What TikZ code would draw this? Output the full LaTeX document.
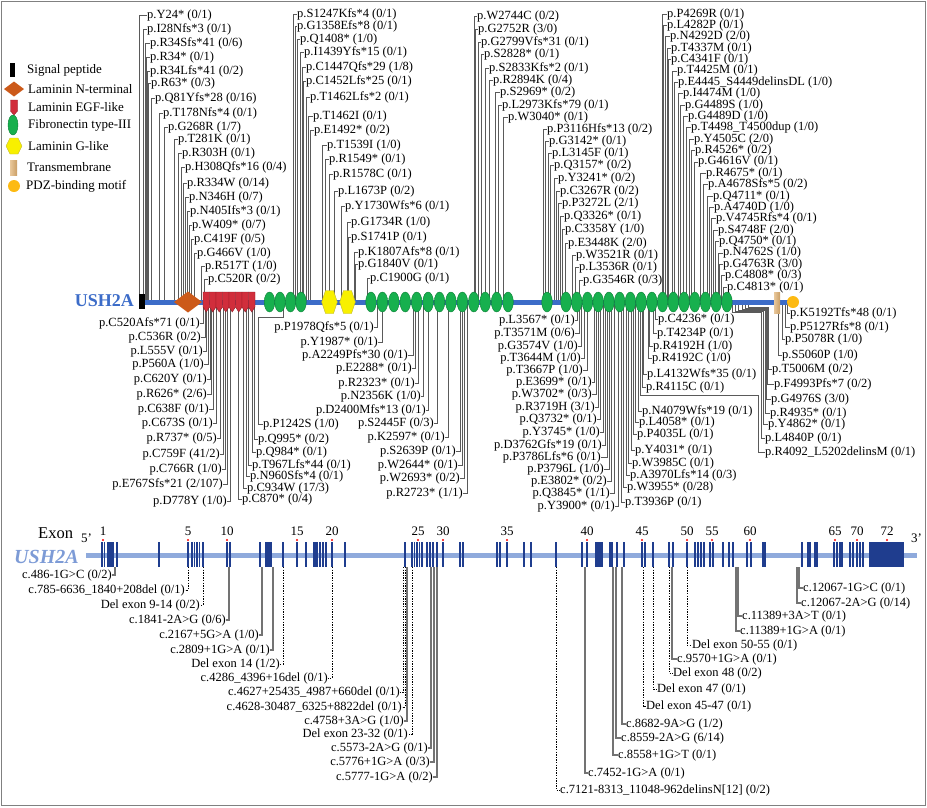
\documentclass[tikz,border=0pt]{standalone}
\usepackage{fontspec}
\setmainfont{Liberation Serif}
\definecolor{leadc}{HTML}{5A5A5A}
\definecolor{barblue}{HTML}{3C6CC8}
\definecolor{dorange}{HTML}{CC5A1A}
\definecolor{egfred}{HTML}{D12E3C}
\definecolor{egfdark}{HTML}{8E1A24}
\definecolor{fngreen}{HTML}{17B04E}
\definecolor{fndark}{HTML}{0B7F35}
\definecolor{lgyellow}{HTML}{F8F000}
\definecolor{tmtan}{HTML}{E0B070}
\definecolor{pdzorange}{HTML}{FDBA12}
\definecolor{exdark}{HTML}{1F3D8E}
\definecolor{exlight}{HTML}{8FAADC}
\definecolor{exlabel}{HTML}{7D9BD6}
\definecolor{framec}{HTML}{808080}
\newcounter{lc}
% label to the right of its line: linex, y, textx, text
\newcommand\ulab[4]{\stepcounter{lc}\node[lab,anchor=west] (n\thelc) at (#3,#2) {#4};
  \draw[lead] (#1,302) |- (n\thelc.west);}
% label to the left of its line: linex, y, textend, text
\newcommand\dlab[4]{\stepcounter{lc}\node[lab,anchor=east] (n\thelc) at (#3,#2) {#4};
  \draw[lead] (#1,302) |- (n\thelc.east);}
% elbow label: posx, jogy, linex, y, textx, text
\newcommand\elab[6]{\stepcounter{lc}\node[lab,anchor=west] (n\thelc) at (#5,#4) {#6};
  \draw[lead] (#1,302) |- (#3,#2) |- (n\thelc.west);}
% exon labels: style, linex, y, textpos, text
\newcommand\exl[5]{\stepcounter{lc}\node[lab,anchor=east] (n\thelc) at (#4,#3) {#5};
  \draw[#1] (#2,567) |- (n\thelc.east);}
\newcommand\exr[5]{\stepcounter{lc}\node[lab,anchor=west] (n\thelc) at (#4,#3) {#5};
  \draw[#1] (#2,567) |- (n\thelc.west);}
\begin{document}
\begin{tikzpicture}[x=1pt,y=-1pt,
  lab/.style={inner sep=0pt,font=\fontsize{12.5}{14}\selectfont},
  legt/.style={inner sep=0pt,anchor=west,font=\fontsize{13}{15}\selectfont},
  lead/.style={draw=leadc,line width=0.8pt},
  esol/.style={draw=leadc!85,line width=1.5pt},
  edot/.style={draw=black,line width=0.7pt,dash pattern=on 1.3pt off 1.3pt},
  exn/.style={inner sep=0pt,font=\fontsize{13}{15}\selectfont},
  fn/.style={fill=fngreen,draw=fndark,line width=0.4pt}]
\useasboundingbox (0,0) rectangle (927,807);
\draw[framec,line width=1.2pt] (1.5,1.5) rectangle (925.5,805.5);

% ---------------- legend ----------------
\fill[black] (10,63) rectangle (15,77);
\node[legt] (lg1) at (27,70) {Signal peptide};
\fill[dorange] (4,89) -- (14,81.5) -- (24,89) -- (14,96.5) -- cycle;
\node[legt] (lg2) at (28,89) {Laminin N-terminal};
\filldraw[fill=egfred,draw=egfdark,line width=0.4pt] (10.5,100) -- (17.5,100) -- (17.5,111) -- (14,115) -- (10.5,111) -- cycle;
\node[legt] (lg3) at (28,107) {Laminin EGF-like};
\filldraw[fn] (13,125) ellipse (5pt and 10pt);
\node[legt] (lg4) at (28,125) {Fibronectin type-III};
\filldraw[fill=lgyellow,draw=yellow!70!black,line width=0.4pt] (6,146) -- (10,138) -- (18,138) -- (22,146) -- (18,154) -- (10,154) -- cycle;
\node[legt] (lg5) at (28,146) {Laminin G-like};
\shade[left color=tmtan!70!white,right color=tmtan!90!black] (10,160) rectangle (17,175);
\node[legt] (lg6) at (27,167) {Transmembrane};
\fill[pdzorange] (14,186) circle (6pt);
\node[legt] (lg7) at (26,186) {PDZ-binding motif};

% ---------------- upper protein labels ----------------
\ulab{139}{15}{147}{p.Y24* (0/1)}
\ulab{143}{29}{147}{p.I28Nfs*3 (0/1)}
\ulab{145}{43}{150}{p.R34Sfs*41 (0/6)}
\ulab{146}{57}{150}{p.R34* (0/1)}
\ulab{147}{71}{150}{p.R34Lfs*41 (0/2)}
\ulab{148}{83}{151}{p.R63* (0/3)}
\ulab{151}{98}{155}{p.Q81Yfs*28 (0/16)}
\ulab{159}{113}{163}{p.T178Nfs*4 (0/1)}
\ulab{164}{127}{168}{p.G268R (1/7)}
\ulab{174}{139}{178}{p.T281K (0/1)}
\ulab{178}{153}{182}{p.R303H (0/1)}
\ulab{181}{167}{185}{p.H308Qfs*16 (0/4)}
\ulab{183}{183}{187}{p.R334W (0/14)}
\ulab{185}{197}{189}{p.N346H (0/7)}
\ulab{187}{211}{190}{p.N405Ifs*3 (0/1)}
\ulab{189}{225}{192}{p.W409* (0/7)}
\ulab{191}{239}{194}{p.C419F (0/5)}
\ulab{194}{253}{197}{p.G466V (1/0)}
\ulab{201}{266}{205}{p.R517T (1/0)}
\ulab{204}{279}{208}{p.C520R (0/2)}

\ulab{293}{14}{297}{p.S1247Kfs*4 (0/1)}
\ulab{295}{26}{297}{p.G1358Efs*8 (0/1)}
\ulab{297}{39}{300}{p.Q1408* (1/0)}
\ulab{300}{52}{304}{p.I1439Yfs*15 (0/1)}
\ulab{302}{67}{306}{p.C1447Qfs*29 (1/8)}
\ulab{303}{81}{306}{p.C1452Lfs*25 (0/1)}
\ulab{306}{97}{310}{p.T1462Lfs*2 (0/1)}
\ulab{308}{116}{313}{p.T1462I (0/1)}
\ulab{310}{130}{314}{p.E1492* (0/2)}
\ulab{322}{145}{327}{p.T1539I (1/0)}
\ulab{325}{159}{329}{p.R1549* (0/1)}
\ulab{329}{174}{333}{p.R1578C (0/1)}
\ulab{334}{191}{338}{p.L1673P (0/2)}
\ulab{341}{206}{345}{p.Y1730Wfs*6 (0/1)}
\ulab{347}{222}{351}{p.G1734R (1/0)}
\ulab{348}{237}{351}{p.S1741P (0/1)}
\ulab{354}{252}{358}{p.K1807Afs*8 (0/1)}
\ulab{355}{264}{358}{p.G1840V (0/1)}
\ulab{367}{278}{370}{p.C1900G (0/1)}

\ulab{474}{16}{477}{p.W2744C (0/2)}
\ulab{475}{29}{478}{p.G2752R (3/0)}
\ulab{478}{42}{481}{p.G2799Vfs*31 (0/1)}
\ulab{481}{54}{484}{p.S2828* (0/1)}
\ulab{485}{68}{489}{p.S2833Kfs*2 (0/1)}
\ulab{489}{80}{493}{p.R2894K (0/4)}
\ulab{495}{92}{500}{p.S2969* (0/2)}
\ulab{498}{105}{502}{p.L2973Kfs*79 (0/1)}
\ulab{503}{117}{508}{p.W3040* (0/1)}

\ulab{543}{129}{547}{p.P3116Hfs*13 (0/2)}
\ulab{545}{141}{549}{p.G3142* (0/1)}
\ulab{548}{153}{552}{p.L3145F (0/1)}
\ulab{550}{165}{554}{p.Q3157* (0/2)}
\ulab{554}{178}{558}{p.Y3241* (0/2)}
\ulab{556}{191}{560}{p.C3267R (0/2)}
\ulab{558}{203}{562}{p.P3272L (2/1)}
\ulab{560}{216}{564}{p.Q3326* (0/1)}
\ulab{562}{229}{565}{p.C3358Y (1/0)}
\ulab{565}{243}{568}{p.E3448K (2/0)}
\ulab{572}{255}{576}{p.W3521R (0/1)}
\ulab{575}{267}{579}{p.L3536R (0/1)}
\ulab{579}{280}{583}{p.G3546R (0/3)}

\ulab{662}{14}{667}{p.P4269R (0/1)}
\ulab{663}{25.4}{667}{p.L4282P (0/1)}
\ulab{665}{36.8}{670}{p.N4292D (2/0)}
\ulab{667}{48.1}{671}{p.T4337M (0/1)}
\ulab{668}{59.5}{671}{p.C4341F (0/1)}
\ulab{672}{70.9}{677}{p.T4425M (0/1)}
\ulab{674}{82.3}{678}{p.E4445\_S4449delinsDL (1/0)}
\ulab{678}{93.6}{683}{p.I4474M (1/0)}
\ulab{680}{105}{685}{p.G4489S (1/0)}
\ulab{683}{116.4}{688}{p.G4489D (1/0)}
\ulab{686}{127.8}{691}{p.T4498\_T4500dup (1/0)}
\ulab{689}{139.1}{694}{p.Y4505C (2/0)}
\ulab{691}{150.5}{695}{p.R4526* (0/2)}
\ulab{694}{161.9}{698}{p.G4616V (0/1)}
\ulab{700}{173.3}{706}{p.R4675* (0/1)}
\ulab{703}{184.6}{708}{p.A4678Sfs*5 (0/2)}
\ulab{707}{196}{713}{p.Q4711* (0/1)}
\ulab{709}{207.4}{714}{p.A4740D (1/0)}
\ulab{711}{218.8}{716}{p.V4745Rfs*4 (0/1)}
\ulab{713}{230.1}{718}{p.S4748F (2/0)}
\ulab{715}{241.5}{719}{p.Q4750* (0/1)}
\ulab{718}{252.9}{723}{p.N4762S (1/0)}
\ulab{719}{264.3}{723}{p.G4763R (3/0)}
\ulab{721}{275.6}{725}{p.C4808* (0/3)}
\ulab{723}{287}{727}{p.C4813* (0/1)}

% ---------------- lower protein labels ----------------
\dlab{203}{323}{200}{p.C520Afs*71 (0/1)}
\dlab{205}{337}{201}{p.C536R (0/2)}
\dlab{206}{351}{203}{p.L555V (0/1)}
\dlab{208}{364}{204}{p.P560A (1/0)}
\dlab{210}{379}{207}{p.C620Y (0/1)}
\dlab{211}{394}{207}{p.R626* (2/6)}
\dlab{213}{409}{209}{p.C638F (0/1)}
\dlab{216}{423}{213}{p.C673S (0/1)}
\dlab{220}{438}{217}{p.R737* (0/5)}
\dlab{223}{454}{220}{p.C759F (41/2)}
\dlab{225}{469}{222}{p.C766R (1/0)}
\dlab{227}{484}{223}{p.E767Sfs*21 (2/107)}
\dlab{230}{501}{227}{p.D778Y (1/0)}

\ulab{238}{499}{242}{p.C870* (0/4)}
\ulab{243}{488}{247}{p.C934W (17/3)}
\ulab{246}{476}{250}{p.N960Sfs*4 (0/1)}
\ulab{248}{465}{252}{p.T967Lfs*44 (0/1)}
\ulab{252}{452}{256}{p.Q984* (0/1)}
\ulab{254}{439}{258}{p.Q995* (0/2)}
\elab{283}{317}{258}{424}{263}{p.P1242S (1/0)}

\dlab{377}{327}{374}{p.P1978Qfs*5 (0/1)}
\dlab{382}{342}{378}{p.Y1987* (0/1)}
\dlab{413}{355}{408}{p.A2249Pfs*30 (0/1)}
\dlab{415}{368}{412}{p.E2288* (0/1)}
\dlab{418}{383}{415}{p.R2323* (0/1)}
\dlab{423}{396}{421}{p.N2356K (1/0)}
\dlab{428}{410}{426}{p.D2400Mfs*13 (0/1)}
\dlab{437}{423}{434}{p.S2445F (0/3)}
\dlab{448}{437}{445}{p.K2597* (0/1)}
\dlab{460}{451}{456}{p.S2639P (0/1)}
\dlab{462}{465}{458}{p.W2644* (0/1)}
\dlab{464}{478}{460}{p.W2693* (0/2)}
\dlab{467}{493}{463}{p.R2723* (1/1)}

\dlab{577}{320}{575}{p.L3567* (0/1)}
\dlab{579}{333}{575}{p.T3571M (0/6)}
\dlab{581}{346}{578}{p.G3574V (1/0)}
\dlab{584}{358}{581}{p.T3644M (1/0)}
\dlab{587}{370}{583}{p.T3667P (1/0)}
\dlab{594}{382}{592}{p.E3699* (0/1)}
\dlab{596}{394}{592}{p.W3702* (0/3)}
\dlab{598}{407}{595}{p.R3719H (3/1)}
\dlab{600}{419}{597}{p.Q3732* (0/1)}
\dlab{603}{432}{600}{p.Y3745* (1/0)}
\dlab{605}{445}{602}{p.D3762Gfs*19 (0/1)}
\dlab{607}{457}{601}{p.P3786Lfs*6 (0/1)}
\dlab{609}{469}{604}{p.P3796L (1/0)}
\dlab{611}{481}{607}{p.E3802* (0/2)}
\dlab{614}{493}{610}{p.Q3845* (1/1)}
\dlab{618}{506}{615}{p.Y3900* (0/1)}

\ulab{621}{502}{625}{p.T3936P (0/1)}
\ulab{623}{487}{627}{p.W3955* (0/28)}
\ulab{626}{475}{630}{p.A3970Lfs*14 (0/3)}
\ulab{628}{463}{632}{p.W3985C (0/1)}
\ulab{631}{450}{635}{p.Y4031* (0/1)}
\ulab{633}{434}{637}{p.P4035L (0/1)}
\ulab{635}{422}{639}{p.L4058* (0/1)}
\ulab{638}{411}{642}{p.N4079Wfs*19 (0/1)}
\elab{640}{395}{758}{452}{765}{p.R4092\_L5202delinsM (0/1)}
\ulab{642}{387}{646}{p.R4115C (0/1)}
\ulab{643}{374}{647}{p.L4132Wfs*35 (0/1)}
\ulab{648}{358}{652}{p.R4192C (1/0)}
\ulab{649}{346}{653}{p.R4192H (1/0)}
\ulab{653}{333}{657}{p.T4234P (0/1)}
\ulab{655}{319}{658}{p.C4236* (0/1)}

\ulab{787}{313}{790}{p.K5192Tfs*48 (0/1)}
\ulab{785}{327}{790}{p.P5127Rfs*8 (0/1)}
\ulab{782}{339}{785}{p.P5078R (1/0)}
\ulab{778}{355}{782}{p.S5060P (1/0)}
\elab{748}{307}{768}{369}{772}{p.T5006M (0/2)}
\elab{745}{308}{767}{384}{774}{p.F4993Pfs*7 (0/2)}
\elab{742}{309}{766}{399}{771}{p.G4976S (3/0)}
\elab{738}{310}{765}{413}{770}{p.R4935* (0/1)}
\elab{735}{311}{763}{424}{768}{p.Y4862* (0/1)}
\elab{732}{312}{761}{438}{765}{p.L4840P (0/1)}

% ---------------- protein bar and domains ----------------
\node[inner sep=0pt,anchor=east,text=barblue,font=\fontsize{18}{20}\selectfont\bfseries] (prot) at (134,301) {USH2A};
\fill[barblue] (144,299.5) rectangle (789,305);
\fill[black] (139,294) rectangle (144.5,309);
\fill[dorange] (174,302) -- (188,291.5) -- (202,302) -- (188,312.5) -- cycle;
\foreach \i in {0,...,7} {\filldraw[fill=egfred,draw=egfdark,line width=0.4pt] ({203+6.5*\i},292) -- ++(6.5,0) -- ++(0,15) -- ++(-3.25,5) -- ++(-3.25,-5) -- cycle;}
\foreach \c in {269.5,280,290.5,301} {\filldraw[fn] (\c,302) ellipse (5.3pt and 10pt);}
\foreach \c in {329.5,347.5} {\filldraw[fill=lgyellow,draw=yellow!70!black,line width=0.4pt] (\c-7.8,302) -- (\c-4,290.5) -- (\c+4,290.5) -- (\c+7.8,302) -- (\c+4,313.5) -- (\c-4,313.5) -- cycle;}
\foreach \i in {0,...,12} {\filldraw[fn] ({371+11.42*\i},302) ellipse (5.3pt and 10pt);}
\filldraw[fn] (547,302) ellipse (5.3pt and 10pt);
\foreach \i in {0,...,15} {\filldraw[fn] ({566+10.73*\i},302) ellipse (5.3pt and 10pt);}
\shade[left color=tmtan!70!white,right color=tmtan!90!black] (774,292) rectangle (780,313);
\fill[pdzorange] (793,302) circle (6pt);

% ---------------- exon labels ----------------
\exl{esol}{115}{575}{112}{c.486-1G>C (0/2)}
\exl{edot}{188}{590}{185}{c.785-6636\_1840+208del (0/1)}
\exl{edot}{203}{605}{200}{Del exon 9-14 (0/2)}
\exl{esol}{229}{620}{226}{c.1841-2A>G (0/6)}
\exl{esol}{262}{635}{259}{c.2167+5G>A (1/0)}
\exl{esol}{273}{650}{270}{c.2809+1G>A (0/1)}
\exl{edot}{283}{664}{280}{Del exon 14 (1/2)}
\exl{edot}{332}{678}{328}{c.4286\_4396+16del (0/1)}
\exl{edot}{403}{692}{400}{c.4627+25435\_4987+660del (0/1)}
\exl{edot}{405}{707}{402}{c.4628-30487\_6325+8822del (0/1)}
\exl{esol}{407}{721}{404}{c.4758+3A>G (1/0)}
\exl{edot}{412}{734}{408}{Del exon 23-32 (0/1)}
\exl{esol}{431}{748}{428}{c.5573-2A>G (0/1)}
\exl{esol}{434}{762}{430}{c.5776+1G>A (0/3)}
\exl{esol}{437}{777}{433}{c.5777-1G>A (0/2)}

\exr{edot}{556}{790}{560}{c.7121-8313\_11048-962delinsN[12] (0/2)}
\exr{esol}{585}{773}{588}{c.7452-1G>A (0/1)}
\exr{esol}{613}{755}{618}{c.8558+1G>T (0/1)}
\exr{esol}{616}{738}{621}{c.8559-2A>G (6/14)}
\exr{esol}{622}{724}{626}{c.8682-9A>G (1/2)}
\exr{edot}{643}{706}{646}{Del exon 45-47 (0/1)}
\exr{edot}{653}{689}{657}{Del exon 47 (0/1)}
\exr{edot}{669}{673}{673}{Del exon 48 (0/2)}
\exr{esol}{672}{659}{677}{c.9570+1G>A (0/1)}
\exr{edot}{687}{645}{692}{Del exon 50-55 (0/1)}
\exr{esol}{736}{631}{740}{c.11389+1G>A (0/1)}
\exr{esol}{738}{616}{742}{c.11389+3A>T (0/1)}
\exr{esol}{797}{603}{801}{c.12067-2A>G (0/14)}
\exr{esol}{799}{588}{803}{c.12067-1G>C (0/1)}

% ---------------- exon structure ----------------
\node[inner sep=0pt,anchor=west,font=\fontsize{16.5}{18}\selectfont] (exonw) at (38,533) {Exon};
\node[inner sep=0pt,anchor=west,font=\fontsize{13}{15}\selectfont] (five) at (81,538) {5’};
\node[inner sep=0pt,anchor=west,font=\fontsize{13}{15}\selectfont] (three) at (911,538) {3’};
\node[inner sep=0pt,anchor=west,text=exlabel,font=\fontsize{20}{22}\selectfont\bfseries\itshape] (gene) at (14,557) {USH2A};
\fill[exlight] (86,553) rectangle (917,557.5);
\foreach \x in {102,104.5,117,159,188,192,194.5,197,199.5,203,227,230,260,283,297,306,320,323,326,332,345,405,412,414.5,417,419.5,422,427,430,433,437,443,460,463,497,500,507,524,531,556,582,587,617,624,642,645,653,669,673,687,695,698,701,704,710,713,723,729,733,747,751,802,834,837,840,842,850,853,857,860,863}
  {\fill[exdark] (\x-0.9,542) rectangle (\x+0.9,567);}
\foreach \a/\b in {106.5/114,265/272,313/318,595/603,609/613,762/766,807/811,814/818,869/904}
  {\fill[exdark] (\a,542) rectangle (\b,567);}
\foreach \n/\x in {1/103,5/188,10/227,15/297,20/332,25/418,30/443,35/507,40/587,45/642,50/687,55/712,60/750,65/835,70/857,72/887}
  {\node[exn] (ex\n) at (\x,531) {\n}; \fill[red] (\x,540) circle (1.2pt);}
\end{tikzpicture}
\end{document}
